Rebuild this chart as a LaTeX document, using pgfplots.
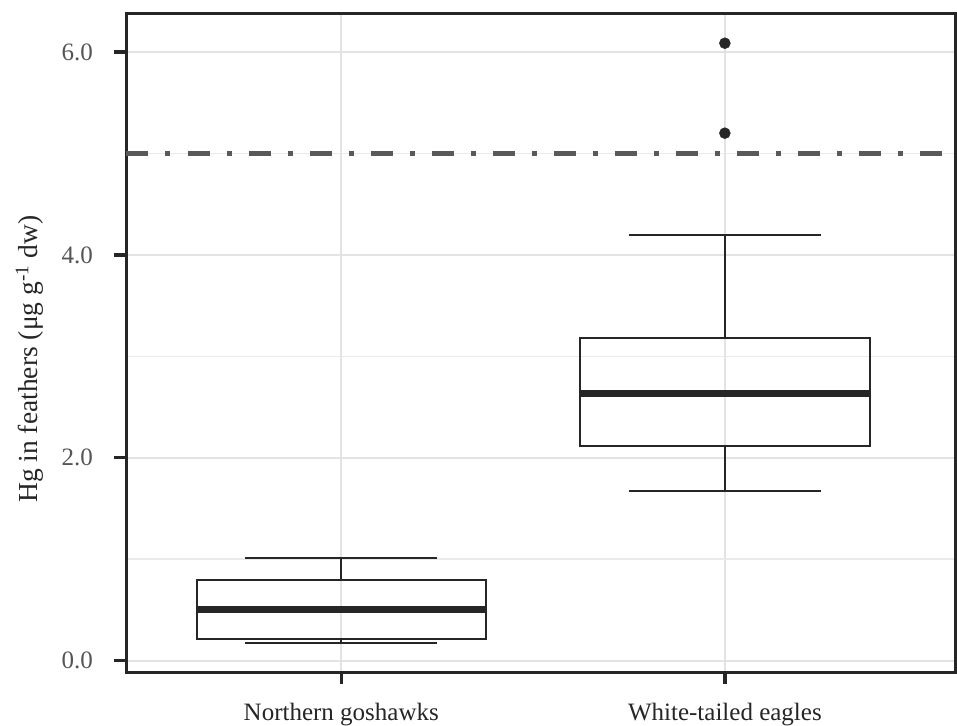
\documentclass[border=0pt]{standalone}
\usepackage{pgfplots}
\pgfplotsset{compat=1.18}
\usepgfplotslibrary{statistics}
\usepackage{fontspec}
\setmainfont{Liberation Serif}
\definecolor{gridc}{HTML}{E3E3E3}
\definecolor{tickc}{HTML}{555555}
\definecolor{framec}{HTML}{262626}
\begin{document}
\begin{tikzpicture}
\begin{axis}[
  scale only axis,
  width=828.5pt, height=658.5pt,
  xmin=0.44, xmax=2.6,
  ymin=-0.113, ymax=6.38,
  xtick={1,2},
  xticklabels={Northern goshawks, White-tailed eagles},
  ytick={0,2,4,6},
  minor ytick={1,3,5},
  yticklabel style={/pgf/number format/fixed, /pgf/number format/fixed zerofill, /pgf/number format/precision=1, /pgf/number format/assume math mode=true, color=tickc, font=\fontsize{25}{30}\selectfont, xshift=-18pt},
  xticklabel style={color=black!85, font=\fontsize{25}{30}\selectfont, yshift=-16pt},
  ylabel={Hg in feathers (μg g\textsuperscript{-1} dw)},
  ylabel style={at={(axis description cs:-0.117,0.475)}, anchor=center, color=black!85, font=\fontsize{27.5}{32}\selectfont},
  xmajorgrids, ymajorgrids, yminorgrids,
  major grid style={line width=2pt, color=gridc},
  minor grid style={line width=1.3pt, color=gridc!75},
  axis line style={line width=3pt, color=framec},
  tick align=outside,
  major tick length=12pt,
  minor tick length=0pt,
  major tick style={line width=3.5pt, color=framec},
  xtick pos=bottom, ytick pos=left,
  boxplot/draw direction=y,
  clip=false,
]
\addplot[draw=framec, line width=2pt, solid, boxplot prepared={draw position=1, lower whisker=0.176, lower quartile=0.209, median=0.505, upper quartile=0.794, upper whisker=1.008, box extend=0.755, whisker extend=0.5, every median/.style={line width=6.5pt}}] coordinates {};
\addplot[draw=framec, line width=2pt, solid, boxplot prepared={draw position=2, lower whisker=1.675, lower quartile=2.115, median=2.635, upper quartile=3.178, upper whisker=4.196, box extend=0.755, whisker extend=0.5, every median/.style={line width=6.5pt}}] coordinates {};
\addplot[only marks, mark=*, mark size=5.5pt, color=framec] coordinates {(2,6.087) (2,5.20)};
\addplot[line width=4.5pt, color=black!65, dash pattern=on 22pt off 17pt on 5pt off 17pt, no marks] coordinates {(0.44,5) (2.6,5)};
\end{axis}
\pgfresetboundingbox
\path ([xshift=-126.5pt,yshift=-53pt]current axis.south west) rectangle ([xshift=2pt,yshift=13.5pt]current axis.north east);
\end{tikzpicture}
\end{document}
